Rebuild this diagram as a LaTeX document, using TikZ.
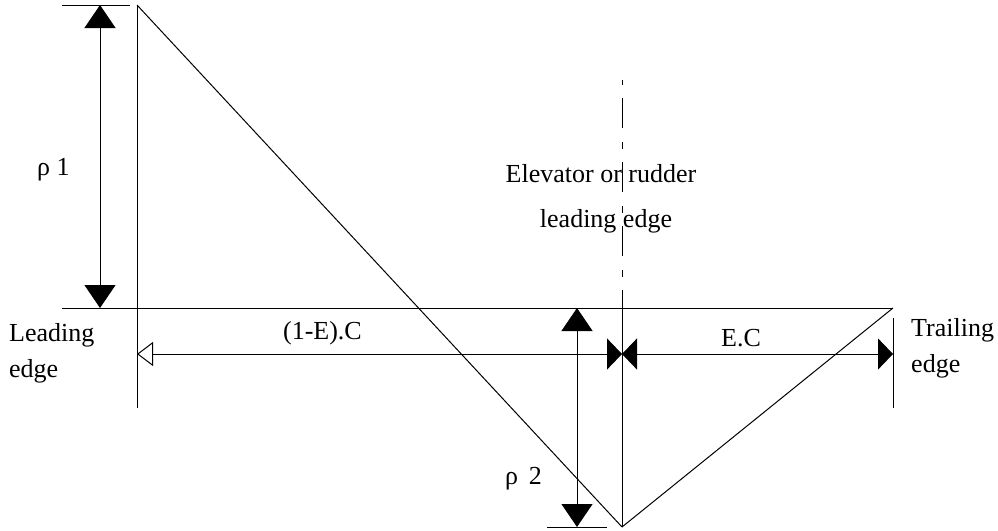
\documentclass[tikz,border=0pt]{standalone}
\usepackage{fontspec}
\setmainfont{Liberation Serif}
\usetikzlibrary{arrows.meta}
\tikzset{
  vtip/.tip={Triangle[length=23pt,width=31pt]},
  htip/.tip={Triangle[length=15pt,width=31pt]},
  otip/.tip={Triangle[open,length=16pt,width=24pt,fill=white]}}
\begin{document}
\begin{tikzpicture}[x=1pt,y=-1pt,
  ln/.style={line width=1pt,black},
  lbl/.style={font=\fontsize{26}{30}\selectfont,inner sep=0pt},
  dashdot/.style={dash pattern=on 30pt off 14pt on 7pt off 13pt,dash phase=46pt}]
\useasboundingbox (0,0) rectangle (998,530);
% coordinates
\coordinate (tickL) at (62,5);
\coordinate (tickR) at (130,5);
\coordinate (r1top) at (100,5);
\coordinate (r1bot) at (100,308);
\coordinate (LEtop) at (137,5);
\coordinate (LEbot) at (137,408);
\coordinate (chordL) at (62,308);
\coordinate (chordR) at (893,308);
\coordinate (hingeTop) at (622,80);
\coordinate (hingeMid) at (622,308);
\coordinate (bottom) at (622,527);
\coordinate (TEtop) at (893,318);
\coordinate (TEbot) at (893,408);
\coordinate (dimL) at (137,354);
\coordinate (dimM) at (622,354);
\coordinate (dimR) at (893,354);
\coordinate (r2top) at (577,308);
\coordinate (r2bot) at (577,527);
\coordinate (btickL) at (547,527);
\coordinate (btickR) at (607,527);
% lines
\draw[ln] (tickL) -- (tickR);
\draw[ln,vtip-vtip] (r1top) -- (r1bot);
\draw[ln] (LEtop) -- (LEbot);
\draw[ln] (chordL) -- (chordR);
\draw[ln] (LEtop) -- (bottom);
\draw[ln,dashdot] (hingeTop) -- (hingeMid);
\draw[ln] (hingeMid) -- (bottom);
\draw[ln] (chordR) -- (bottom);
\draw[ln] (TEtop) -- (TEbot);
\draw[ln,otip-htip] (dimL) -- (dimM);
\draw[ln,htip-htip] (dimM) -- (dimR);
\draw[ln,vtip-vtip] (r2top) -- (r2bot);
\draw[ln] (btickL) -- (btickR);
% labels
\node[lbl,anchor=base west] (rho1) at (37,175) {ρ 1};
\node[lbl,anchor=base west] (rho2) at (505,484) {ρ\, 2};
\node[lbl,anchor=base] (elev1) at (601,182) {Elevator or rudder};
\node[lbl,anchor=base] (elev2) at (606,227) {leading edge};
\node[lbl,anchor=base west] (lead1) at (9,341) {Leading};
\node[lbl,anchor=base west] (lead2) at (9,377) {edge};
\node[lbl,anchor=base west] (trail1) at (911,336) {Trailing};
\node[lbl,anchor=base west] (trail2) at (911,372) {edge};
\node[lbl,anchor=base east] (onemE) at (362,339) {(1-E).C};
\node[lbl,anchor=base] (EC) at (741,346) {E.C};
\end{tikzpicture}
\end{document}
